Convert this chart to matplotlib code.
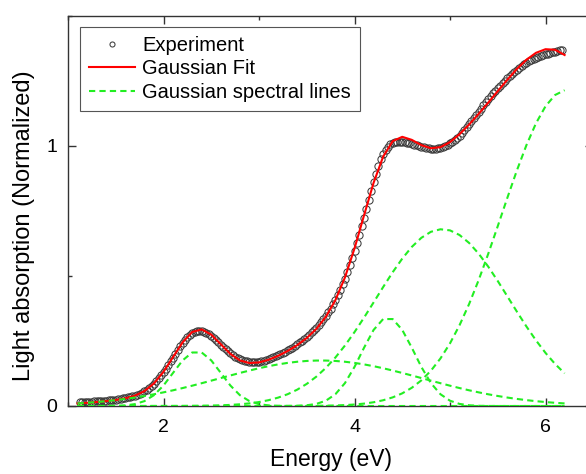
import numpy as np
import matplotlib
matplotlib.use("Agg")
import matplotlib.pyplot as plt
from matplotlib.ticker import MultipleLocator

plt.rcParams['font.family'] = ['Liberation Sans', 'DejaVu Sans']

# energy grid of the fitted curves (eV), 1.1 .. 6.2 in steps of 0.1
energia = np.linspace(1.1, 6.2, 52)

# gaussian components
g1 = [0, 0, 0, 0.0002, 0.0006, 0.0023, 0.0072, 0.0187, 0.0416, 0.0789,
      0.1274, 0.1754, 0.2058, 0.2058, 0.1754, 0.1274, 0.0789, 0.0416, 0.0187, 0.0072,
      0.0023, 0.0006, 0.0002, 0, 0, 0, 0, 0, 0, 0,
      0, 0, 0, 0, 0, 0, 0, 0, 0, 0,
      0, 0, 0, 0, 0, 0, 0, 0, 0, 0,
      0, 0]
g2 = [0.0099, 0.0123, 0.0152, 0.0186, 0.0226, 0.0272, 0.0325, 0.0385, 0.0451, 0.0525,
      0.0604, 0.0690, 0.0781, 0.0877, 0.0975, 0.1075, 0.1174, 0.1271, 0.1364, 0.1452,
      0.1531, 0.1600, 0.1658, 0.1702, 0.1733, 0.1748, 0.1748, 0.1733, 0.1702, 0.1658,
      0.1600, 0.1531, 0.1452, 0.1364, 0.1271, 0.1174, 0.1075, 0.0975, 0.0877, 0.0781,
      0.0690, 0.0604, 0.0525, 0.0451, 0.0385, 0.0325, 0.0272, 0.0226, 0.0186, 0.0152,
      0.0123, 0.0099]
g3 = [0, 0, 0, 0, 0, 0, 0, 0, 0, 0,
      0, 0, 0, 0, 0, 0, 0, 0, 0, 0,
      0, 0.0001, 0.0002, 0.0008, 0.0028, 0.0080, 0.0203, 0.0453, 0.0881, 0.1502,
      0.2242, 0.2926, 0.3344, 0.3344, 0.2926, 0.2242, 0.1502, 0.0881, 0.0453, 0.0203,
      0.0080, 0.0028, 0.0008, 0.0002, 0.0001, 0, 0, 0, 0, 0,
      0, 0]
g4 = [0, 0, 0, 0, 0, 0, 0, 0, 0.0001, 0.0001,
      0.0002, 0.0003, 0.0006, 0.0010, 0.0016, 0.0026, 0.0042, 0.0066, 0.0101, 0.0152,
      0.0224, 0.0322, 0.0454, 0.0628, 0.0851, 0.1128, 0.1466, 0.1866, 0.2326, 0.2842,
      0.3400, 0.3985, 0.4575, 0.5146, 0.5669, 0.6119, 0.6469, 0.6700, 0.6797, 0.6755,
      0.6576, 0.6272, 0.5860, 0.5362, 0.4808, 0.4221, 0.3632, 0.3060, 0.2526, 0.2043,
      0.1618, 0.1256]
g5 = [0, 0, 0, 0, 0, 0, 0, 0, 0, 0,
      0, 0, 0, 0, 0, 0, 0, 0, 0, 0,
      0, 0, 0.0001, 0.0002, 0.0004, 0.0007, 0.0012, 0.0021, 0.0035, 0.0057,
      0.0092, 0.0144, 0.0221, 0.0332, 0.0487, 0.0701, 0.0986, 0.1357, 0.1829, 0.2409,
      0.3108, 0.3921, 0.4842, 0.5850, 0.6916, 0.8001, 0.9057, 1.0030, 1.0871, 1.1528,
      1.1961, 1.2145]

ajuste = [0.0099, 0.0123, 0.0152, 0.0188, 0.0232, 0.0295, 0.0397, 0.0572, 0.0868, 0.1315,
          0.1880, 0.2447, 0.2845, 0.2945, 0.2745, 0.2375, 0.2005, 0.1753, 0.1652, 0.1676,
          0.1778, 0.1929, 0.2117, 0.2340, 0.2616, 0.2963, 0.3429, 0.4073, 0.4944, 0.6059,
          0.7334, 0.8586, 0.9592, 1.0186, 1.0353, 1.0236, 1.0032, 0.9913, 0.9956, 1.0148,
          1.0454, 1.0825, 1.1235, 1.1665, 1.2110, 1.2547, 1.2961, 1.3316, 1.3583, 1.3723,
          1.3702, 1.3500]

# measured spectrum, 1.125 .. 6.175 eV in steps of 0.025
energia_exp = np.linspace(1.125, 6.175, 203)
experimento = [
    0.0152, 0.0155, 0.0157, 0.016, 0.0165, 0.017, 0.0175, 0.018, 0.0187, 0.0195,
    0.0202, 0.021, 0.022, 0.023, 0.024, 0.025, 0.0265, 0.028, 0.0295, 0.031,
    0.033, 0.035, 0.0373, 0.040, 0.0433, 0.047, 0.051, 0.056, 0.062, 0.069,
    0.0765, 0.085, 0.095, 0.106, 0.118, 0.130, 0.1435, 0.157, 0.1715, 0.186,
    0.2005, 0.215, 0.229, 0.243, 0.2545, 0.265, 0.2735, 0.280, 0.284, 0.287,
    0.288, 0.288, 0.2855, 0.282, 0.2765, 0.270, 0.2625, 0.254, 0.245, 0.236,
    0.2275, 0.219, 0.211, 0.203, 0.1965, 0.190, 0.1848, 0.180, 0.1768, 0.174,
    0.1718, 0.170, 0.1693, 0.169, 0.1697, 0.171, 0.1728, 0.175, 0.1775, 0.180,
    0.1833, 0.187, 0.191, 0.195, 0.1995, 0.204, 0.209, 0.214, 0.2195, 0.225,
    0.2315, 0.238, 0.2445, 0.251, 0.2585, 0.266, 0.2745, 0.283, 0.292, 0.301,
    0.3113, 0.322, 0.334, 0.347, 0.3607, 0.375, 0.391, 0.408, 0.4265, 0.446,
    0.4675, 0.490, 0.515, 0.541, 0.5685, 0.597, 0.6275, 0.659, 0.6915, 0.725,
    0.7595, 0.794, 0.8285, 0.862, 0.8935, 0.923, 0.9485, 0.970, 0.9865, 0.998,
    1.0065, 1.012, 1.0145, 1.016, 1.016, 1.015, 1.0135, 1.012, 1.010, 1.008,
    1.0055, 1.003, 1.0005, 0.998, 0.9955, 0.993, 0.9913, 0.990, 0.9897, 0.990,
    0.9913, 0.993, 0.9963, 1.000, 1.0048, 1.010, 1.0168, 1.024, 1.0318, 1.040,
    1.0498, 1.060, 1.0713, 1.083, 1.095, 1.107, 1.1195, 1.132, 1.144, 1.156,
    1.168, 1.180, 1.191, 1.202, 1.2125, 1.223, 1.2325, 1.242, 1.251, 1.260,
    1.2685, 1.277, 1.2845, 1.292, 1.2995, 1.307, 1.3135, 1.320, 1.3255, 1.331,
    1.3355, 1.340, 1.3435, 1.347, 1.350, 1.353, 1.3555, 1.358, 1.3605, 1.363,
    1.3655, 1.368, 1.3705]

componentes = [g1, g2, g3, g4, g5]

fig = plt.figure(figsize=(5.86, 4.74), dpi=100)
ax = fig.add_axes([68 / 586, 68 / 474, 525.25 / 586, 390 / 474])

ax.plot(energia_exp, experimento, linestyle="none", marker="o", ms=5.2,
        mfc="none", mec="#3c3c3c", mew=0.75, label="Experiment", zorder=2)
ax.plot(energia, ajuste, color="#ff0000", lw=1.5, label="Gaussian Fit", zorder=3)
for i, comp in enumerate(componentes):
    ax.plot(energia, comp, color="#22ee22", lw=1.5, dashes=(3, 2),
            label="Gaussian spectral lines" if i == 0 else None, zorder=4)

ax.set_xlim(1.0, 6.5)
ax.set_ylim(0, 1.5)
ax.xaxis.set_major_locator(MultipleLocator(2))
ax.xaxis.set_minor_locator(MultipleLocator(1))
ax.yaxis.set_major_locator(MultipleLocator(1))
ax.yaxis.set_minor_locator(MultipleLocator(0.5))
ax.tick_params(which="both", direction="in", top=True, right=True,
               labelsize=14, color="#333333")
ax.tick_params(axis="x", pad=9)
ax.tick_params(axis="y", pad=8)
ax.tick_params(which="major", length=6, width=1)
ax.tick_params(which="minor", length=3, width=1)
for s in ax.spines.values():
    s.set_color("#333333")
    s.set_linewidth(1.0)

ax.set_xlabel("Energy (eV)", fontsize=16.5, labelpad=9)
ax.set_ylabel("Light absorption (Normalized)", fontsize=17)
ax.yaxis.set_label_coords(-0.062, 0.4615)

leg = ax.legend(loc="upper left", bbox_to_anchor=(0.0228, 0.972), borderaxespad=0,
                fontsize=14.5, frameon=True, fancybox=False, framealpha=1,
                edgecolor="#555555", borderpad=0.45, labelspacing=0.22,
                handlelength=2.3, handletextpad=0.35, markerscale=0.7)
leg.get_frame().set_linewidth(0.8)

fig.savefig("out.png", dpi=100)
